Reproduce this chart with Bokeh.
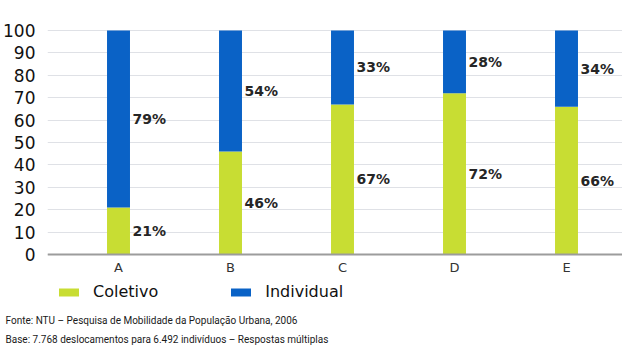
from bokeh.plotting import figure
from bokeh.models import (ColumnDataSource, Legend, LegendItem, LabelSet, Title,
                          FixedTicker, Range1d, Span)
from bokeh.core.properties import value
from bokeh.embed import file_html
from bokeh.resources import INLINE

# ---- data ----
categories = ["A", "B", "C", "D", "E"]
coletivo = [21, 46, 67, 72, 66]
individual = [79, 54, 33, 28, 34]
y_ticks = [0, 10, 20, 30, 40, 50, 60, 70, 80, 90, 100]
series_names = ["Coletivo", "Individual"]
footnotes = [
    "Fonte: NTU \u2013 Pesquisa de Mobilidade da Popula\u00e7\u00e3o Urbana, 2006",
    "Base: 7.768 deslocamentos para 6.492 indiv\u00edduos \u2013 Respostas m\u00faltiplas",
]

# ---- styles ----
GREEN = "#c8dd33"
BLUE = "#0a62c6"
FONT = "DejaVu Sans"
NOTE_FONT = "Roboto"

xs = list(range(len(categories)))
total = [c + i for c, i in zip(coletivo, individual)]
src = ColumnDataSource(dict(
    x=xs, coletivo=coletivo, individual=individual, total=total,
    mid_c=[c / 2 for c in coletivo],
    mid_i=[c + i / 2 for c, i in zip(coletivo, individual)],
    lab_c=[f"{v}%" for v in coletivo],
    lab_i=[f"{v}%" for v in individual],
))

# frame: x 47..622 px, y 20..309 px ; value 0 sits at 254 px, 100 at 30 px
x_start, x_end = -0.634, 4.5
y_start, y_end = -24.55, 104.46
p = figure(width=622, height=351, output_backend="svg", toolbar_location=None,
           x_range=Range1d(x_start, x_end), y_range=Range1d(y_start, y_end),
           x_axis_location=None,
           min_border_left=47, min_border_right=0, min_border_top=20,
           min_border_bottom=42)
p.outline_line_color = None
p.background_fill_color = "white"
p.border_fill_color = "white"

# y axis & grid
p.yaxis.ticker = FixedTicker(ticks=y_ticks)
p.yaxis.axis_line_color = None
p.yaxis.major_tick_line_color = None
p.yaxis.minor_tick_line_color = None
p.yaxis.major_label_standoff = 6
p.yaxis.major_label_text_font = FONT
p.yaxis.major_label_text_font_size = "17px"
p.yaxis.major_label_text_color = "#111111"
p.yaxis.major_label_text_baseline = "alphabetic"
p.ygrid.ticker = FixedTicker(ticks=y_ticks)
p.ygrid.grid_line_color = "#dfe1e6"
p.ygrid.grid_line_width = 1
p.xgrid.grid_line_color = None

# category axis line at value 0
p.add_layout(Span(location=0, dimension="width", line_color="#9c9c9c",
                  line_width=2))

r_c = p.vbar(x="x", width=0.205, bottom=0, top="coletivo", source=src,
             fill_color=GREEN, line_color=None)
r_i = p.vbar(x="x", width=0.205, bottom="coletivo", top="total", source=src,
             fill_color=BLUE, line_color=None)

# category labels
csrc = ColumnDataSource(dict(x=xs, y=[0] * len(xs), t=categories))
p.add_layout(LabelSet(x="x", y="y", text="t", source=csrc, y_offset=-13,
                      text_align="center", text_baseline="middle",
                      text_font=value(FONT), text_font_size="13px",
                      text_color="#333333"))

# value labels
for ycol, tcol in (("mid_c", "lab_c"), ("mid_i", "lab_i")):
    p.add_layout(LabelSet(x="x", y=ycol, text=tcol, source=src, x_offset=14,
                          text_align="left", text_baseline="middle",
                          text_font=value(FONT), text_font_style="bold",
                          text_font_size="14px", text_color="#262626"))

# legend (inside the frame, below the category labels)
legend = Legend(items=[LegendItem(label=series_names[0], renderers=[r_c]),
                       LegendItem(label=series_names[1], renderers=[r_i])],
                orientation="horizontal", location=(9, 8),
                glyph_width=25, glyph_height=10, label_standoff=12,
                spacing=70, padding=4, margin=0,
                label_text_font=FONT, label_text_font_size="16px",
                label_text_color="#111111",
                border_line_color=None, background_fill_alpha=0)
p.add_layout(legend)

# footnotes
for txt in footnotes:
    p.add_layout(Title(text=txt, align="left", offset=-42, standoff=6,
                       text_font=NOTE_FONT, text_font_size="10px",
                       text_font_style="normal", text_color="#1a1a1a"),
                 "below")

open("out.html", "w").write(file_html(p, INLINE))
